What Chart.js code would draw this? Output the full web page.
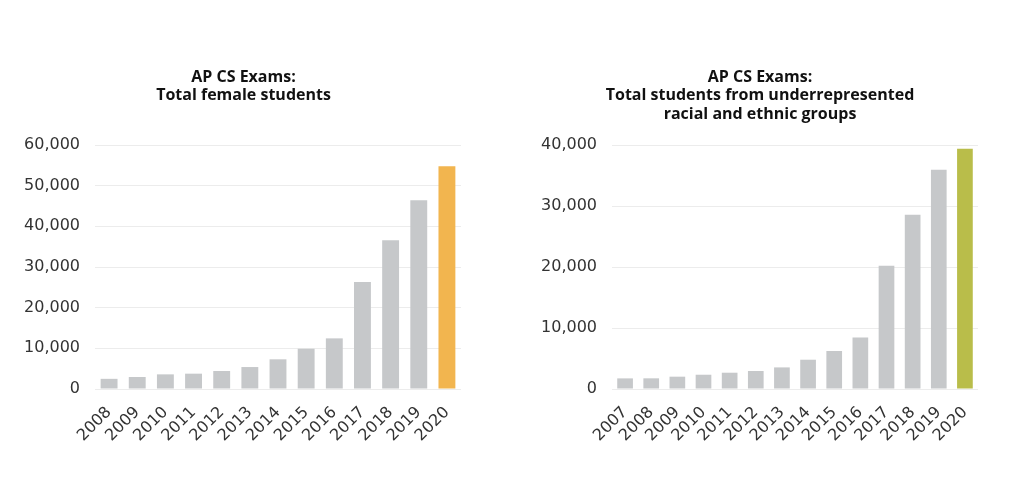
<!DOCTYPE html>
<html>
<head>
<meta charset="utf-8">
<script src="https://cdn.jsdelivr.net/npm/chart.js@4.4.1/dist/chart.umd.min.js"></script>
<style>
html,body{margin:0;padding:0;background:#fff;}
body{width:1012px;height:486px;position:relative;overflow:hidden;}
.box{position:absolute;top:0;width:506px;height:486px;}
</style>
</head>
<body>
<div class="box" style="left:0"><canvas id="c1"></canvas></div>
<div class="box" style="left:506px"><canvas id="c2"></canvas></div>
<script>
const femaleYears = ['2008','2009','2010','2011','2012','2013','2014','2015','2016','2017','2018','2019','2020'];
const femaleValues = [2500, 2950, 3600, 3770, 4420, 5400, 7300, 9900, 12450, 26300, 36600, 46400, 54800];
const femaleTicks = [0, 10000, 20000, 30000, 40000, 50000, 60000];

const urgYears = ['2007','2008','2009','2010','2011','2012','2013','2014','2015','2016','2017','2018','2019','2020'];
const urgValues = [1740, 1750, 2020, 2340, 2670, 2950, 3540, 4800, 6230, 8460, 20200, 28570, 35950, 39400];
const urgTicks = [0, 10000, 20000, 30000, 40000];

const GREY = '#c6c8ca';
const FONT = "'DejaVu Sans', sans-serif";

function colors(n, hi){ const a = []; for(let i=0;i<n;i++) a.push(i===n-1?hi:GREY); return a; }

function makeChart(id, labels, values, ticks, hi, titleLines, pad, titleBottom, yWidth, titleShift){
  const shiftTitle = {
    id: 'shiftTitle',
    afterLayout(chart){ const t = chart.titleBlock; if (t) { t.left += titleShift; t.right += titleShift; } }
  };
  return new Chart(document.getElementById(id), {
    type: 'bar',
    data: { labels: labels, datasets: [{ data: values, backgroundColor: colors(values.length, hi), barPercentage: 0.6, categoryPercentage: 1.0, borderWidth: 0 }] },
    plugins: [shiftTitle],
    options: {
      responsive: false, animation: false, locale: 'en-US',
      layout: { padding: pad },
      plugins: {
        legend: { display: false }, tooltip: { enabled: false },
        title: { display: true, text: titleLines, color: '#111', font: { family: "'Open Sans', sans-serif", size: 16, weight: '700', lineHeight: 1.15 }, padding: { top: 68, bottom: titleBottom } }
      },
      scales: {
        x: {
          afterFit: s => { s.height = 97; },
          grid: { display: false }, border: { display: false },
          ticks: { color: '#333', font: { family: FONT, size: 16 }, maxRotation: 45, minRotation: 45, padding: 6, autoSkip: false }
        },
        y: {
          min: 0, max: ticks[ticks.length-1],
          afterBuildTicks: s => { s.ticks = ticks.map(v => ({ value: v })); },
          afterFit: s => { s.width = yWidth; },
          grid: { color: '#ececec', drawTicks: false }, border: { display: false },
          ticks: { color: '#333', font: { family: FONT, size: 16 }, padding: 15 }
        }
      }
    }
  });
}

function sizeCanvas(id){ const c = document.getElementById(id); c.width = 506; c.height = 486; c.style.width='506px'; c.style.height='486px'; }
sizeCanvas('c1'); sizeCanvas('c2');

makeChart('c1', femaleYears, femaleValues, femaleTicks, '#f2b54f',
  ['AP CS Exams:', 'Total female students'], { left: 0, right: 45, bottom: 0, top: 0 }, 40.2, 95, 13);
makeChart('c2', urgYears, urgValues, urgTicks, '#b9bd4a',
  ['AP CS Exams:', 'Total students from underrepresented', 'racial and ethnic groups'], { left: 0, right: 34, bottom: 0, top: 0 }, 21.8, 106, 18);
</script>
</body>
</html>
